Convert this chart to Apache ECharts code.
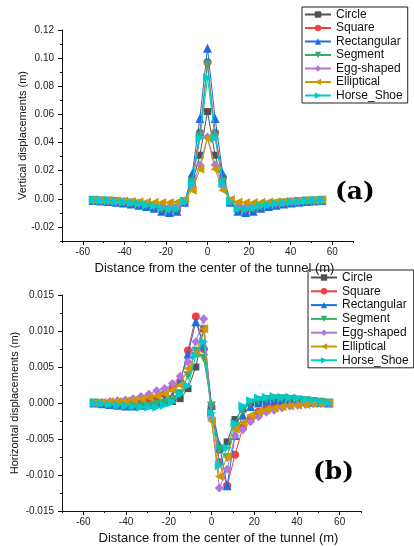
<!DOCTYPE html>
<html><head><meta charset="utf-8">
<script src="https://cdn.jsdelivr.net/npm/echarts@6/dist/echarts.min.js"></script>
<style>html,body{margin:0;padding:0;background:#fff}#c{width:414px;height:546px}</style>
</head><body><div id="c"></div>
<script>
const seriesNames = ['Circle','Square','Rectangular','Segment','Egg-shaped','Elliptical','Horse_Shoe'];
const colors = ['#515151','#F14040','#1A6FDF','#37AD6B','#B177DE','#CC9900','#00CBCC'];
const xDist = [-55,-51.33,-47.67,-44,-40.33,-36.67,-33,-29.33,-25.67,-22,-18.33,-14.67,-11,-7.33,-3.67,0,3.67,7.33,11,14.67,18.33,22,25.67,29.33,33,36.67,40.33,44,47.67,51.33,55];

// Panel (a): vertical displacements (m)
const vCircle = [-0.001,-0.0012,-0.0015,-0.0018,-0.0022,-0.0027,-0.0033,-0.004,-0.005,-0.0065,-0.0075,-0.0068,-0.002,0.011,0.031,0.062,0.031,0.011,-0.002,-0.0068,-0.0075,-0.0065,-0.005,-0.004,-0.0033,-0.0027,-0.0022,-0.0018,-0.0015,-0.0012,-0.001];
const vSquare = [-0.0011,-0.0014,-0.0018,-0.0022,-0.0027,-0.0033,-0.004,-0.005,-0.006,-0.0078,-0.0088,-0.008,-0.002,0.015,0.047,0.097,0.047,0.015,-0.002,-0.008,-0.0088,-0.0078,-0.006,-0.005,-0.004,-0.0033,-0.0027,-0.0022,-0.0018,-0.0014,-0.0011];
const vRect = [-0.0012,-0.0015,-0.002,-0.0025,-0.003,-0.0037,-0.0045,-0.0055,-0.0068,-0.0088,-0.0098,-0.0088,-0.0025,0.018,0.057,0.107,0.057,0.018,-0.0025,-0.0088,-0.0098,-0.0088,-0.0068,-0.0055,-0.0045,-0.0037,-0.003,-0.0025,-0.002,-0.0015,-0.0012];
const vSegment = [-0.001,-0.0013,-0.0016,-0.002,-0.0025,-0.003,-0.0037,-0.0045,-0.0055,-0.007,-0.008,-0.0072,-0.002,0.012,0.044,0.095,0.044,0.012,-0.002,-0.0072,-0.008,-0.007,-0.0055,-0.0045,-0.0037,-0.003,-0.0025,-0.002,-0.0016,-0.0013,-0.001];
const vEgg = [-0.001,-0.0012,-0.0014,-0.0017,-0.002,-0.0025,-0.003,-0.0036,-0.0043,-0.0052,-0.0058,-0.005,-0.0015,0.009,0.024,0.044,0.024,0.009,-0.0015,-0.005,-0.0058,-0.0052,-0.0043,-0.0036,-0.003,-0.0025,-0.002,-0.0017,-0.0014,-0.0012,-0.001];
const vEllip = [-0.0008,-0.001,-0.0012,-0.0014,-0.0016,-0.0019,-0.0021,-0.0023,-0.0025,-0.0027,-0.0027,-0.0022,-0.0005,0.006,0.021,0.043,0.021,0.006,-0.0005,-0.0022,-0.0027,-0.0027,-0.0025,-0.0023,-0.0021,-0.0019,-0.0016,-0.0014,-0.0012,-0.001,-0.0008];
const vHorse = [-0.001,-0.0012,-0.0015,-0.0019,-0.0023,-0.0028,-0.0034,-0.0042,-0.0052,-0.0066,-0.0075,-0.007,-0.002,0.011,0.043,0.086,0.043,0.011,-0.002,-0.007,-0.0075,-0.0066,-0.0052,-0.0042,-0.0034,-0.0028,-0.0023,-0.0019,-0.0015,-0.0012,-0.001];

// Panel (b): horizontal displacements (m)
const hCircle = [0,-0.0001,-0.0002,-0.0002,-0.0003,-0.0003,-0.0003,-0.0003,-0.0002,0,0.0002,0.0006,0.002,0.005,0.0103,-0.0004,-0.0065,-0.0054,-0.0023,-0.0008,0,0.0003,0.0004,0.0005,0.0005,0.0005,0.0004,0.0003,0.0002,0.0001,0];
const hSquare = [0,0,0,0,0,0,0.0001,0.0003,0.0007,0.0012,0.002,0.003,0.0073,0.012,0.0075,-0.0005,-0.0082,-0.0115,-0.0072,-0.0034,-0.0022,-0.0012,-0.0007,-0.0004,-0.0002,-0.0001,0,0,0,0,0];
const hRect = [0,-0.0001,-0.0002,-0.0003,-0.0004,-0.0004,-0.0003,-0.0002,0,0.0004,0.001,0.003,0.0068,0.0113,0.008,-0.0003,-0.0058,-0.0115,-0.0045,-0.0017,-0.0005,0,0.0003,0.0004,0.0004,0.0004,0.0003,0.0002,0.0001,0.0001,0];
const hSegment = [0,-0.0001,-0.0002,-0.0003,-0.0004,-0.0004,-0.0004,-0.0004,-0.0002,0,0.0005,0.0013,0.0038,0.0072,0.0062,-0.0004,-0.0065,-0.0076,-0.0035,-0.001,0,0.0003,0.0005,0.0006,0.0006,0.0005,0.0004,0.0003,0.0002,0.0001,0];
const hEgg = [0,0.0001,0.0002,0.0003,0.0004,0.0006,0.0009,0.0012,0.0017,0.002,0.0027,0.0037,0.0057,0.0085,0.0117,-0.0022,-0.0118,-0.0092,-0.0045,-0.0037,-0.0026,-0.0019,-0.0013,-0.001,-0.0007,-0.0004,-0.0003,-0.0002,-0.0001,-0.0001,0];
const hEllip = [0,0.0001,0.0002,0.0002,0.0003,0.0004,0.0006,0.0008,0.001,0.0013,0.0018,0.0025,0.0048,0.0069,0.0103,-0.0025,-0.0102,-0.0075,-0.0036,-0.0027,-0.0017,-0.0012,-0.0009,-0.0007,-0.0005,-0.0004,-0.0003,-0.0002,-0.0001,-0.0001,0];
const hHorse = [0,-0.0001,-0.0002,-0.0003,-0.0004,-0.0005,-0.0006,-0.0006,-0.0006,-0.0003,0.0001,0.0012,0.0024,0.0066,0.0085,-0.0014,-0.0087,-0.0062,-0.0028,-0.0004,0.0003,0.0007,0.0008,0.0009,0.0008,0.0008,0.0007,0.0005,0.0004,0.0002,0];

const xMajorTicks = [-60,-40,-20,0,20,40,60];
const xMinorTicks = [-70,-50,-30,-10,10,30,50,70];
const yaMajorTicks = [-0.02,0,0.02,0.04,0.06,0.08,0.10,0.12];
const yaMinorTicks = [-0.03,-0.01,0.01,0.03,0.05,0.07,0.09,0.11];
const ybMajorTicks = [-0.015,-0.010,-0.005,0,0.005,0.010,0.015];
const ybMinorTicks = [-0.0125,-0.0075,-0.0025,0.0025,0.0075,0.0125];

const vData = [vCircle,vSquare,vRect,vSegment,vEgg,vEllip,vHorse];
const hData = [hCircle,hSquare,hRect,hSegment,hEgg,hEllip,hHorse];
const symbols = ['rect','circle','triangle','triangle','diamond','triangle','triangle'];
const rotations = [0,0,0,180,0,90,-90];
const sizes = [7,8,9,9,9,9,9];

const FONT = 'Liberation Sans';
const lineC = '#111';

function mkX(grid, major, minor, name){
  return [{
    type:'value', gridIndex:grid, min:-70, max:70, position:'bottom',
    axisLine:{show:true,onZero:false,lineStyle:{color:lineC,width:1}},
    axisTick:{show:true,inside:false,length:4,customValues:major,lineStyle:{color:lineC}},
    axisLabel:{customValues:major,fontSize:10,fontFamily:FONT,color:'#222',margin:6},
    splitLine:{show:false},
    name:name,nameLocation:'middle',nameGap:21,nameMoveOverlap:false,
    nameTextStyle:{fontSize:13,fontFamily:FONT,color:'#111',padding:[0,0,0,14]}
  },{
    type:'value', gridIndex:grid, min:-70, max:70, position:'bottom',
    axisLine:{show:false,onZero:false},
    axisTick:{show:true,inside:false,length:2,customValues:minor,lineStyle:{color:lineC}},
    axisLabel:{show:false}, splitLine:{show:false}
  }];
}
function mkY(grid, min, max, major, minor, dec, name, gap){
  return [{
    type:'value', gridIndex:grid, min:min, max:max, position:'left',
    axisLine:{show:true,onZero:false,lineStyle:{color:lineC,width:1}},
    axisTick:{show:true,inside:false,length:4,customValues:major,lineStyle:{color:lineC}},
    axisLabel:{customValues:major,fontSize:10,fontFamily:FONT,color:'#222',margin:8,
      formatter:v=>Number(v).toFixed(dec)},
    splitLine:{show:false},
    name:name,nameLocation:'middle',nameGap:gap,nameMoveOverlap:false,
    nameTextStyle:{fontSize:11,fontFamily:FONT,color:'#111'}
  },{
    type:'value', gridIndex:grid, min:min, max:max, position:'left',
    axisLine:{show:false,onZero:false},
    axisTick:{show:true,inside:false,length:2,customValues:minor,lineStyle:{color:lineC}},
    axisLabel:{show:false}, splitLine:{show:false}
  }];
}

const series = [];
[vData,hData].forEach((set,g)=>{
  set.forEach((arr,i)=>{
    series.push({
      type:'line', name:seriesNames[i], xAxisIndex:g*2, yAxisIndex:g*2,
      data:xDist.map((x,k)=>[x,arr[k]]),
      symbol:symbols[i], symbolRotate:rotations[i], symbolSize:sizes[i],
      showAllSymbol:true,
      lineStyle:{width:1,color:colors[i]}, itemStyle:{color:colors[i]},
      animation:false, z:2+i
    });
  });
});

function mkLegend(left, top, gap){
  return {
    left:left, top:top, orient:'vertical', data:seriesNames,
    borderColor:'#222', borderWidth:1, borderRadius:0, padding:[1,5,1,2],
    itemGap:gap, itemWidth:26, itemHeight:8,
    textStyle:{fontSize:12,fontFamily:FONT,color:'#111',lineHeight:13},
    selectedMode:false
  };
}

const chart = echarts.init(document.getElementById('c'), null, {renderer:'canvas'});
chart.setOption({
  backgroundColor:'#fff',
  animation:false,
  grid:[
    {left:62, top:30, width:291, height:211, outerBoundsMode:'none', containLabel:false},
    {left:62, top:295, width:299, height:216, outerBoundsMode:'none', containLabel:false}
  ],
  xAxis:[...mkX(0,xMajorTicks,xMinorTicks,'Distance from the center of the tunnel (m)'),
         ...mkX(1,xMajorTicks,xMinorTicks,'Distance from the center of the tunnel (m)')],
  yAxis:[...mkY(0,-0.03,0.12,yaMajorTicks,yaMinorTicks,2,'Vertical displacements (m)',34),
         ...mkY(1,-0.015,0.015,ybMajorTicks,ybMinorTicks,3,'Horizontal displacements (m)',42)],
  legend:[mkLegend(302,7,0.5), mkLegend(308,270,0.8)],
  series:series,
  graphic:[
    {type:'text', left:335, top:180, style:{text:'(a)', font:'bold 25px "DejaVu Serif"', fill:'#000'}},
    {type:'text', left:313, top:460, style:{text:'(b)', font:'bold 25px "DejaVu Serif"', fill:'#000'}}
  ]
});
</script></body></html>
